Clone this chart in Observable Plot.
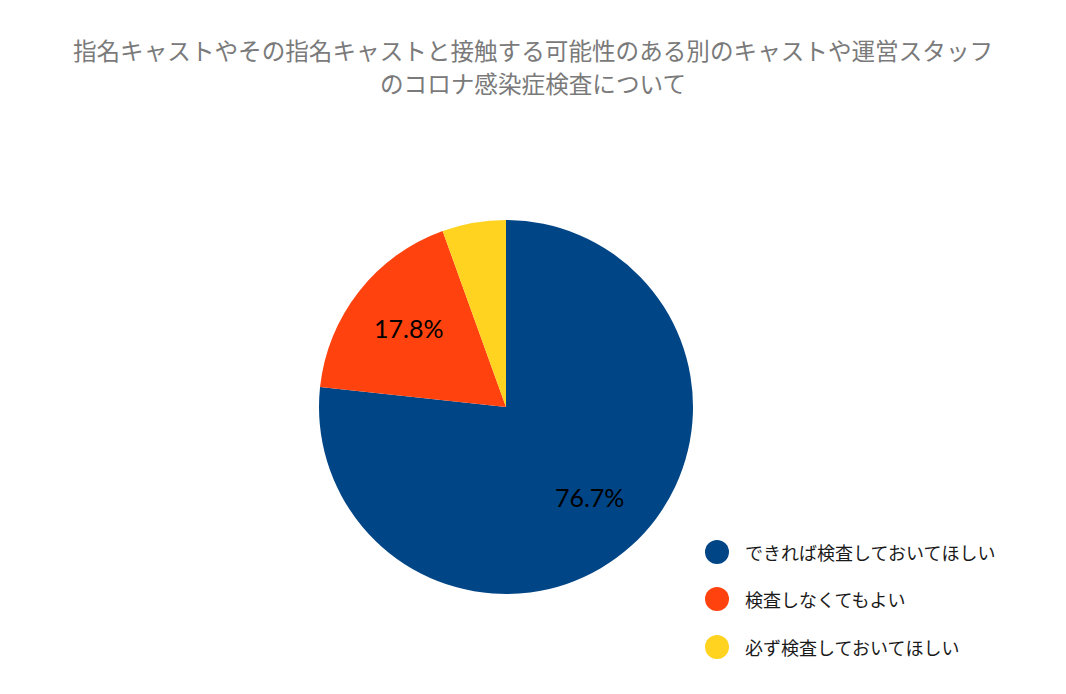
<!DOCTYPE html>
<html>
<head>
<meta charset="utf-8">
<script src="https://cdn.jsdelivr.net/npm/d3@7"></script>
<script src="https://cdn.jsdelivr.net/npm/@observablehq/plot@0.6"></script>
<style>
  html, body { margin: 0; padding: 0; background: #fff; }
  #wrap { position: relative; width: 1066px; height: 694px; overflow: hidden; }
  #title { box-sizing: border-box; height: 110px; padding-top: 34px; text-align: center;
    font-family: "Noto Sans CJK JP", sans-serif; font-size: 23.6px; line-height: 33px; color: #7a7a7a; }
  #legend { position: absolute; left: 705px; top: 528px; font-family: "Noto Sans CJK JP", sans-serif;
    font-size: 18px; color: #1a1a1a; }
  .item { display: flex; align-items: center; height: 47.5px; }
  .sw { width: 24px; height: 24px; border-radius: 50%; margin-right: 16px; }
</style>
</head>
<body>
<div id="wrap">
  <div id="title">指名キャストやその指名キャストと接触する可能性のある別のキャストや運営スタッフ<br>のコロナ感染症検査について</div>
  <div id="chart"></div>
  <div id="legend"></div>
</div>
<script>
const categories = ["できれば検査しておいてほしい", "検査しなくてもよい", "必ず検査しておいてほしい"];
const values = [76.7, 17.8, 5.5];
const labels = ["76.7%", "17.8%", ""];
const colors = ["#004586", "#ff420e", "#ffd320"];

const data = categories.map((c, i) => ({category: c, value: values[i], label: labels[i]}));
const arcs = d3.pie().sort(null).value(d => d.value)(data);
const labelArc = d3.arc().innerRadius(0.665).outerRadius(0.665);
const labelData = arcs.filter(a => a.data.label).map(a => {
  const [cx, cy] = labelArc.centroid(a);
  return {x: cx, y: -cy, label: a.data.label};
});

const pieMark = (index, scales) => {
  const cx = scales.x(0), cy = scales.y(0);
  const r = scales.x(1) - scales.x(0);
  const g = d3.create("svg:g").attr("transform", `translate(${cx},${cy})`);
  const arcGen = d3.arc().innerRadius(0).outerRadius(r);
  g.selectAll("path").data(arcs).join("path")
    .attr("d", arcGen)
    .attr("fill", d => scales.color(d.data.category));
  return g.node();
};

const chart = Plot.plot({
  width: 1066,
  height: 584,
  marginLeft: 319,
  marginRight: 373,
  marginTop: 110,
  marginBottom: 100,
  x: {domain: [-1, 1], axis: null},
  y: {domain: [-1, 1], axis: null},
  color: {domain: categories, range: colors},
  style: {background: "transparent"},
  marks: [
    pieMark,
    Plot.text(labelData, {x: "x", y: "y", text: "label", fontSize: 25, dy: -1,
      fontFamily: "Lato, 'Open Sans', sans-serif", fill: "#000"})
  ]
});
document.getElementById("chart").appendChild(chart);

const legend = d3.select("#legend");
categories.forEach((c, i) => {
  const it = legend.append("div").attr("class", "item");
  it.append("div").attr("class", "sw").style("background", colors[i]);
  it.append("span").text(c);
});
</script>
</body>
</html>
